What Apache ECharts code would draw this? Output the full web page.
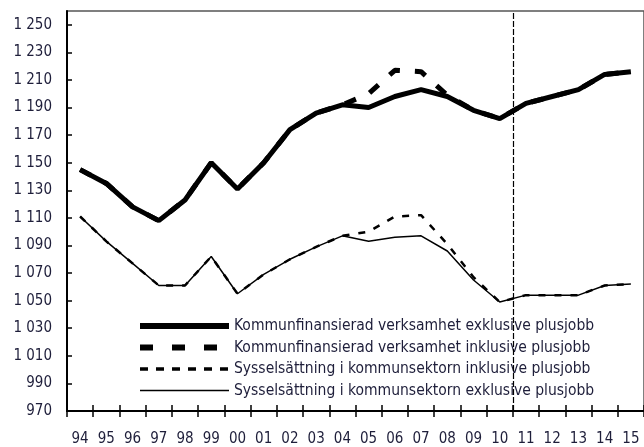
<!DOCTYPE html>
<html>
<head>
<meta charset="utf-8">
<script src="https://cdn.jsdelivr.net/npm/echarts@6/dist/echarts.min.js"></script>
<style>
  html, body { margin: 0; padding: 0; background: #fff; }
  #main { width: 644px; height: 447px; }
</style>
</head>
<body>
<div id="main"></div>
<script>
// år 1994-2015
const years = ['94', '95', '96', '97', '98', '99', '00', '01', '02', '03', '04',
  '05', '06', '07', '08', '09', '10', '11', '12', '13', '14', '15']

const kommunExkl = [1145, 1135, 1118, 1108, 1123, 1150, 1131, 1150, 1174, 1186, 1192,
  1190, 1198, 1203, 1198, 1188, 1182, 1193, 1198, 1203, 1214, 1216]
const kommunInkl = [1145, 1135, 1118, 1108, 1123, 1150, 1131, 1150, 1174, 1186, 1192,
  1200, 1217, 1216, 1199, 1188, 1182, 1193, 1198, 1203, 1214, 1216]
const sektorInkl = [1111, 1093, 1077, 1061, 1061, 1082, 1055, 1069, 1080, 1089, 1097,
  1100, 1111, 1112, 1091, 1067, 1049, 1054, 1054, 1054, 1061, 1062]
const sektorExkl = [1111, 1093, 1077, 1061, 1061, 1082, 1055, 1069, 1080, 1089, 1097,
  1093, 1096, 1097, 1086, 1065, 1049, 1054, 1054, 1054, 1061, 1062]

const names = [
  'Kommunfinansierad verksamhet exklusive plusjobb',
  'Kommunfinansierad verksamhet inklusive plusjobb',
  'Sysselsättning i kommunsektorn inklusive plusjobb',
  'Sysselsättning i kommunsektorn exklusive plusjobb'
]
const prognosStart = 17 // gränsen mellan 10 och 11

const font = 'DejaVu Sans Condensed'
const textColor = '#1e1e3a'

// linjestilar för serierna
const styleKommunExkl = { color: '#000', width: 5 }
const styleKommunInkl = { color: '#000', width: 5, type: [12, 15] }
const styleSektorInkl = { color: '#000', width: 2.5, type: [7, 9] }
const styleSektorExkl = { color: '#000', width: 1.5 }

const myChart = echarts.init(document.getElementById('main'))
myChart.setOption({
  animation: false,
  grid: {
    left: 67,
    top: 11,
    bottom: 35,
    width: 582,
    show: true,
    borderColor: '#555',
    borderWidth: 1.5
  },
  legend: {
    data: [
      { name: names[0], itemStyle: { opacity: 0 }, lineStyle: { width: 6 } },
      { name: names[1], itemStyle: { opacity: 0 }, lineStyle: { width: 6, type: [13, 19] } },
      { name: names[2], itemStyle: { opacity: 0 }, lineStyle: { width: 3.5, type: [8, 8] } },
      { name: names[3], itemStyle: { opacity: 0 }, lineStyle: { width: 1.5 } }
    ],
    orient: 'vertical',
    left: 137,
    top: 318,
    itemWidth: 89,
    itemHeight: 14,
    itemGap: 5.5,
    padding: 0,
    textStyle: { fontFamily: font, fontSize: 15.5, color: textColor }
  },
  xAxis: [
    {
      type: 'category',
      data: years,
      boundaryGap: true,
      axisLine: { lineStyle: { color: '#000', width: 2 } },
      axisTick: { show: true, inside: false, length: 6, lineStyle: { color: '#000', width: 1.5 } },
      axisLabel: { fontFamily: font, fontSize: 15, color: textColor, margin: 21, interval: 0 },
      splitLine: { show: false }
    },
    {
      type: 'value',
      min: 0,
      max: years.length,
      interval: 1,
      position: 'bottom',
      axisLine: { show: false },
      axisTick: { show: true, inside: true, length: 6, lineStyle: { color: '#000', width: 1.5 } },
      axisLabel: { show: false },
      splitLine: { show: false }
    }
  ],
  yAxis: {
    type: 'value',
    min: 970,
    max: 1260,
    interval: 20,
    axisLine: { show: true, lineStyle: { color: '#000', width: 2 } },
    axisTick: { show: true, inside: true, length: 5, lineStyle: { color: '#000', width: 1.5 } },
    axisLabel: {
      fontFamily: font,
      fontSize: 15,
      color: textColor,
      margin: 15,
      showMaxLabel: false,
      formatter: v => (v >= 1000 ? '1 ' + String(v).slice(1) : String(v))
    },
    splitLine: { show: false }
  },
  series: [
    {
      name: names[1],
      type: 'line',
      data: kommunInkl,
      symbol: 'none',
      lineStyle: styleKommunInkl,
      itemStyle: { color: '#000' },
      z: 3
    },
    {
      name: names[0],
      type: 'line',
      data: kommunExkl,
      symbol: 'none',
      lineStyle: styleKommunExkl,
      itemStyle: { color: '#000' },
      z: 4
    },
    {
      name: names[2],
      type: 'line',
      data: sektorInkl,
      symbol: 'none',
      lineStyle: styleSektorInkl,
      itemStyle: { color: '#000' },
      z: 3
    },
    {
      name: names[3],
      type: 'line',
      data: sektorExkl,
      symbol: 'none',
      lineStyle: styleSektorExkl,
      itemStyle: { color: '#000' },
      z: 4
    },
    {
      // lodrät streckad linje: prognosgräns
      type: 'line',
      xAxisIndex: 1,
      data: [],
      markLine: {
        silent: true,
        symbol: 'none',
        label: { show: false },
        lineStyle: { color: '#000', width: 1.2, type: [6, 2] },
        data: [{ xAxis: prognosStart }]
      }
    }
  ]
})
</script>
</body>
</html>
